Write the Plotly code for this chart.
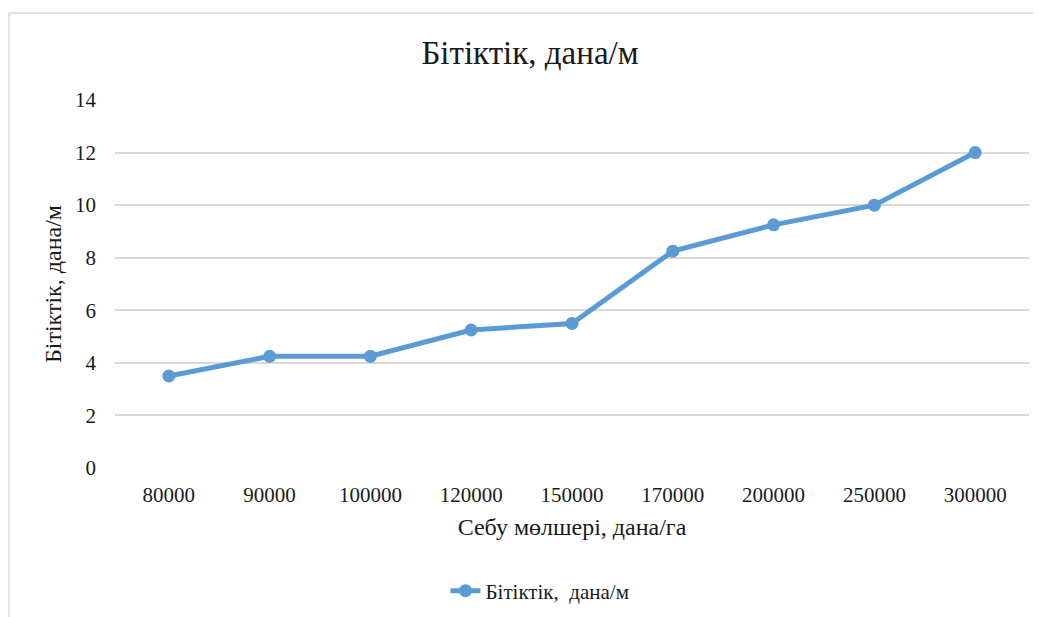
import plotly.graph_objects as go

categories = ["80000", "90000", "100000", "120000", "150000", "170000", "200000", "250000", "300000"]
values = [3.5, 4.25, 4.25, 5.25, 5.5, 8.25, 9.25, 10, 12]
series_name = "Бітіктік,  дана/м"
title_text = "Бітіктік, дана/м"
x_title = "Себу мөлшері, дана/га"
y_title = "Бітіктік, дана/м"
y_ticks = [0, 2, 4, 6, 8, 10, 12, 14]

FONT = "Liberation Serif, Times New Roman, serif"
COLOR = "#5B9BD5"
OFF = 8  # page body margin

fig = go.Figure()
fig.add_trace(go.Scatter(
    x=categories, y=values, mode="lines+markers", name=series_name,
    line=dict(color=COLOR, width=5),
    marker=dict(color=COLOR, size=13),
))

W, H = 1041 - OFF, 617 - OFF
L, T = 115 - OFF, 100 - OFF
R = W - (1029 - OFF)
B = H - (468 - OFF)
pw, ph = W - L - R, H - T - B

fig.update_layout(
    width=W, height=H,
    margin=dict(l=L, r=R, t=T, b=B, autoexpand=False),
    paper_bgcolor="white", plot_bgcolor="white",
    font=dict(family=FONT, color="#1a1a1a", size=21),
    title=dict(text=title_text, x=(530 - OFF) / W, xref="container",
               xanchor="center", y=1 - (52 - OFF) / H, yanchor="middle",
               font=dict(size=33, family=FONT, color="#1a1a1a")),
    xaxis=dict(type="category", showgrid=False, zeroline=False, showline=False,
               ticks="", tickfont=dict(size=21, family=FONT), automargin=False,
               ticklabelstandoff=12,
               title=dict(text=x_title, font=dict(size=24, family=FONT), standoff=12)),
    yaxis=dict(range=[0, 14], tickvals=y_ticks, showgrid=True, gridcolor="#d9d9d9",
               gridwidth=1.5, zeroline=False, showline=False, ticks="",
               ticklabelstandoff=18, automargin=False,
               tickfont=dict(size=21, family=FONT),
               title=dict(text=y_title, font=dict(size=24, family=FONT), standoff=6)),
    showlegend=True,
    legend=dict(orientation="h", x=(540 - 115) / pw, xanchor="center",
                y=-(591 - 468) / ph, yanchor="middle",
                font=dict(size=21, family=FONT)),
)

fig.add_shape(type="rect", xref="paper", yref="paper",
              x0=(9 - 115) / pw, x1=(1070 - 115) / pw,
              y0=-(660 - 468) / ph, y1=(468 - 13) / ph,
              line=dict(color="#d9d9d9", width=1.5), fillcolor="rgba(0,0,0,0)", layer="below")

fig.write_html("out.html")
